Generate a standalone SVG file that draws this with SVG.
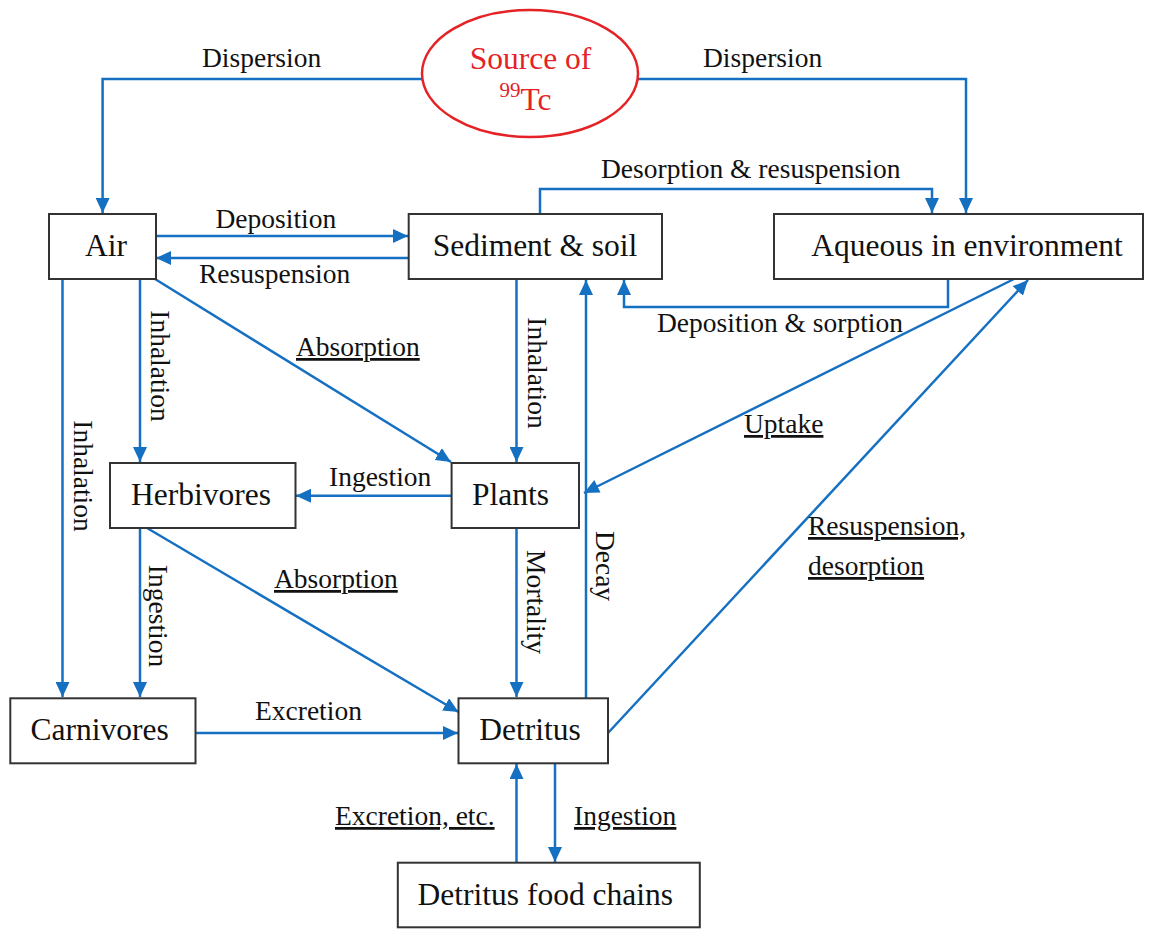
<svg xmlns="http://www.w3.org/2000/svg" width="1152" height="929" viewBox="0 0 1152 929">
<style>
.box{fill:#fff;stroke:#333;stroke-width:2}
.nt{font-family:"Liberation Serif","Times New Roman",serif;font-size:31.5px;fill:#111;text-anchor:middle}
.lb{font-family:"Liberation Serif","Times New Roman",serif;font-size:27.5px;fill:#111}
.u{text-decoration:underline}
.c{fill:none;stroke:#1570C2;stroke-width:2.5;marker-end:url(#ah)}
.rot{text-anchor:middle;dominant-baseline:central}
.src{font-family:"Liberation Serif","Times New Roman",serif;fill:#E52226}
</style>
<defs>
<marker id="ah" viewBox="0 0 15 14" refX="15" refY="7" markerWidth="15" markerHeight="14" markerUnits="userSpaceOnUse" orient="auto"><path d="M0,0 L15,7 L0,14 z" fill="#1570C2"/></marker>
</defs>
<rect width="1152" height="929" fill="#fff"/>
<g id="connectors">
<path class="c" d="M422,79 H102.6 V213"/>
<path class="c" d="M637.5,79 H966 V213"/>
<path class="c" d="M540,213 V189 H932 V213"/>
<path class="c" d="M156,236 H408"/>
<path class="c" d="M408,258 H156"/>
<path class="c" d="M948,279 V307 H624 V280"/>
<path class="c" d="M62.5,279 V697"/>
<path class="c" d="M140,279 V462"/>
<path class="c" d="M155,279 L451,462"/>
<path class="c" d="M516.5,279 V462"/>
<path class="c" d="M586,698 V280"/>
<path class="c" d="M1014,279 L584,493"/>
<path class="c" d="M608,733 L1028,280"/>
<path class="c" d="M451.6,495.7 H296"/>
<path class="c" d="M140,528 V697"/>
<path class="c" d="M147,528 L458.5,712"/>
<path class="c" d="M516.5,528 V697"/>
<path class="c" d="M195.5,733 H458"/>
<path class="c" d="M516.5,862 V764"/>
<path class="c" d="M555,763 V862"/>
</g>
<g id="labels">
<text class="lb" x="202" y="67">Dispersion</text>
<text class="lb" x="703" y="67">Dispersion</text>
<text class="lb" x="601" y="178">Desorption &amp; resuspension</text>
<text class="lb" x="215.5" y="228">Deposition</text>
<text class="lb" x="199" y="283">Resuspension</text>
<text class="lb" x="657" y="332">Deposition &amp; sorption</text>
<text class="lb u" x="296" y="356">Absorption</text>
<text class="lb u" x="744" y="433">Uptake</text>
<text class="lb" x="329" y="486">Ingestion</text>
<text class="lb u" x="808" y="535">Resuspension,</text>
<text class="lb u" x="808" y="575">desorption</text>
<text class="lb u" x="274" y="588">Absorption</text>
<text class="lb" x="255" y="720">Excretion</text>
<text class="lb u" x="335" y="825">Excretion, etc.</text>
<text class="lb u" x="574" y="825">Ingestion</text>
<text class="lb rot" transform="translate(83,476) rotate(90)">Inhalation</text>
<text class="lb rot" transform="translate(160.7,366) rotate(90)">Inhalation</text>
<text class="lb rot" transform="translate(537.7,373) rotate(90)">Inhalation</text>
<text class="lb rot" transform="translate(158,616) rotate(90)">Ingestion</text>
<text class="lb rot" transform="translate(536,602) rotate(90)">Mortality</text>
<text class="lb rot" transform="translate(605,566) rotate(90)">Decay</text>
</g>
<g id="source">
<ellipse cx="530" cy="73.5" rx="108" ry="63.5" fill="#fff" stroke="#E52226" stroke-width="2.5"/>
<text class="src" x="530.5" y="69" font-size="31.5" text-anchor="middle">Source of</text>
<text class="src" x="499.5" y="97" font-size="21">99</text>
<text class="src" x="520.5" y="110" font-size="31.5">Tc</text>
</g>
<g id="air"><rect class="box" x="49" y="214" width="107" height="65"/><text class="nt" x="106" y="256">Air</text></g>
<g id="sediment"><rect class="box" x="408.7" y="214" width="253.3" height="65"/><text class="nt" x="535" y="256">Sediment &amp; soil</text></g>
<g id="aqueous"><rect class="box" x="774" y="214" width="369" height="65"/><text class="nt" x="967" y="256">Aqueous in environment</text></g>
<g id="herbivores"><rect class="box" x="110" y="463" width="185.5" height="65"/><text class="nt" x="201" y="505">Herbivores</text></g>
<g id="plants"><rect class="box" x="451.6" y="463" width="127.4" height="65"/><text class="nt" x="510.5" y="505">Plants</text></g>
<g id="carnivores"><rect class="box" x="10.3" y="698.3" width="185.2" height="65"/><text class="nt" x="99.6" y="740">Carnivores</text></g>
<g id="detritus"><rect class="box" x="458.5" y="698.3" width="149.5" height="65"/><text class="nt" x="530" y="740">Detritus</text></g>
<g id="detritus-food-chains"><rect class="box" x="397.8" y="862.7" width="302" height="64.6"/><text class="nt" x="545.3" y="905">Detritus food chains</text></g>
</svg>
